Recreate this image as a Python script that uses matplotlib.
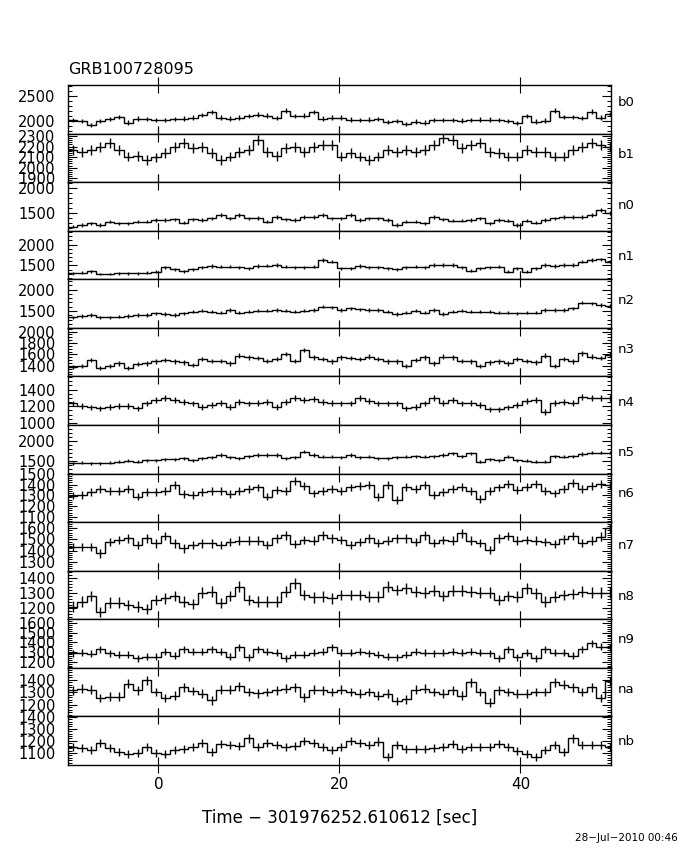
import numpy as np
import matplotlib
matplotlib.use("Agg")
import matplotlib.pyplot as plt
from matplotlib.ticker import MultipleLocator, AutoMinorLocator

# detector names, top to bottom
detectors = ["b0", "b1", "n0", "n1", "n2", "n3", "n4", "n5",
             "n6", "n7", "n8", "n9", "na", "nb"]

bin_width = 1.024
t_start = -10.0

# count rates per 1.024 s bin
b0 = [2010, 1990, 1920, 1990, 2030, 2070, 1960, 2040, 2030, 2010, 2010, 2030, 2040, 2060, 2110,
      2170, 2060, 2040, 2060, 2090, 2120, 2100, 2050, 2200, 2090, 2100, 2170, 2040, 2060, 2060,
      2020, 2010, 2020, 2030, 1970, 1990, 1940, 1980, 1960, 2010, 2010, 2010, 2000, 2010, 2020,
      2020, 2010, 1990, 1950, 2090, 1980, 2000, 2200, 2070, 2070, 2050, 2180, 2060, 2130]
b1 = [2167, 2150, 2167, 2199, 2231, 2167, 2104, 2110, 2072, 2098, 2136, 2199, 2237, 2183, 2199,
      2136, 2072, 2104, 2150, 2167, 2262, 2150, 2110, 2183, 2199, 2150, 2199, 2215, 2215, 2104,
      2136, 2104, 2072, 2104, 2167, 2150, 2167, 2150, 2167, 2215, 2278, 2262, 2183, 2215, 2231,
      2150, 2136, 2104, 2104, 2167, 2150, 2150, 2104, 2104, 2167, 2199, 2231, 2215, 2199]
n0 = [1217, 1250, 1283, 1250, 1317, 1283, 1283, 1317, 1317, 1350, 1350, 1363, 1297, 1363, 1350,
      1383, 1450, 1383, 1450, 1383, 1397, 1317, 1417, 1363, 1350, 1417, 1417, 1450, 1383, 1383,
      1450, 1350, 1383, 1383, 1350, 1250, 1317, 1317, 1283, 1417, 1363, 1337, 1337, 1350, 1383,
      1283, 1350, 1337, 1250, 1337, 1297, 1350, 1383, 1417, 1417, 1417, 1450, 1550, 1497]
n1 = [1307, 1323, 1363, 1291, 1291, 1307, 1307, 1307, 1323, 1347, 1451, 1411, 1363, 1403, 1451,
      1483, 1467, 1467, 1451, 1427, 1483, 1491, 1507, 1467, 1451, 1451, 1467, 1627, 1587, 1427,
      1427, 1483, 1451, 1451, 1427, 1411, 1451, 1467, 1451, 1507, 1507, 1507, 1451, 1371, 1427,
      1451, 1467, 1347, 1427, 1347, 1427, 1507, 1483, 1507, 1507, 1587, 1627, 1643, 1587]
n2 = [1351, 1382, 1406, 1351, 1351, 1367, 1382, 1406, 1406, 1445, 1429, 1406, 1445, 1483, 1507,
      1483, 1460, 1522, 1460, 1483, 1507, 1507, 1522, 1507, 1483, 1507, 1522, 1600, 1584, 1522,
      1561, 1538, 1522, 1522, 1483, 1429, 1460, 1507, 1460, 1522, 1429, 1483, 1507, 1483, 1483,
      1483, 1460, 1460, 1445, 1460, 1460, 1522, 1522, 1522, 1561, 1693, 1678, 1639, 1615]
n3 = [1381, 1399, 1501, 1369, 1399, 1441, 1369, 1429, 1441, 1477, 1501, 1477, 1459, 1417, 1519,
      1489, 1489, 1441, 1578, 1548, 1536, 1489, 1519, 1608, 1489, 1680, 1548, 1519, 1477, 1548,
      1536, 1519, 1560, 1519, 1477, 1477, 1399, 1501, 1548, 1441, 1560, 1548, 1489, 1477, 1399,
      1459, 1477, 1441, 1519, 1489, 1459, 1578, 1399, 1519, 1477, 1620, 1560, 1536, 1596]
n4 = [1234, 1202, 1186, 1174, 1194, 1202, 1202, 1174, 1234, 1275, 1295, 1275, 1255, 1234, 1194,
      1214, 1242, 1194, 1255, 1234, 1242, 1255, 1194, 1255, 1295, 1275, 1283, 1255, 1242, 1234,
      1234, 1295, 1267, 1234, 1234, 1234, 1174, 1194, 1234, 1295, 1242, 1275, 1234, 1242, 1214,
      1162, 1162, 1186, 1214, 1267, 1275, 1134, 1242, 1255, 1242, 1315, 1295, 1295, 1295]
n5 = [1442, 1459, 1442, 1442, 1459, 1484, 1509, 1484, 1525, 1525, 1542, 1542, 1567, 1525, 1567,
      1592, 1650, 1592, 1567, 1625, 1650, 1650, 1650, 1567, 1592, 1734, 1650, 1609, 1609, 1592,
      1650, 1592, 1609, 1567, 1567, 1592, 1609, 1625, 1609, 1625, 1650, 1692, 1625, 1692, 1484,
      1542, 1525, 1609, 1525, 1509, 1484, 1484, 1625, 1609, 1625, 1675, 1709, 1709, 1709]
n6 = [1297, 1306, 1328, 1358, 1343, 1337, 1358, 1288, 1328, 1328, 1337, 1397, 1312, 1306, 1328,
      1337, 1337, 1312, 1337, 1358, 1373, 1288, 1349, 1337, 1434, 1388, 1318, 1337, 1358, 1343,
      1373, 1388, 1397, 1282, 1397, 1258, 1379, 1358, 1397, 1306, 1328, 1358, 1379, 1343, 1267,
      1337, 1373, 1409, 1349, 1379, 1403, 1337, 1318, 1358, 1418, 1358, 1388, 1403, 1397]
n7 = [1434, 1434, 1434, 1374, 1478, 1493, 1508, 1448, 1508, 1463, 1529, 1463, 1419, 1448, 1463,
      1463, 1448, 1478, 1487, 1487, 1487, 1448, 1508, 1537, 1457, 1493, 1487, 1537, 1508, 1493,
      1448, 1478, 1508, 1469, 1487, 1508, 1508, 1478, 1537, 1469, 1493, 1487, 1552, 1487, 1469,
      1404, 1508, 1529, 1487, 1493, 1487, 1478, 1457, 1499, 1529, 1469, 1487, 1523, 1597]
n8 = [1208, 1241, 1279, 1174, 1234, 1234, 1219, 1208, 1190, 1252, 1263, 1279, 1241, 1225, 1301,
      1308, 1230, 1279, 1341, 1252, 1241, 1241, 1241, 1308, 1363, 1286, 1270, 1274, 1263, 1286,
      1286, 1286, 1274, 1274, 1341, 1319, 1330, 1308, 1301, 1314, 1279, 1314, 1314, 1308, 1301,
      1301, 1252, 1279, 1274, 1330, 1297, 1241, 1274, 1286, 1292, 1308, 1301, 1301, 1301]
n9 = [1287, 1294, 1280, 1328, 1287, 1270, 1270, 1236, 1253, 1253, 1304, 1260, 1328, 1304, 1304,
      1328, 1304, 1253, 1349, 1246, 1328, 1304, 1294, 1236, 1270, 1270, 1294, 1304, 1349, 1294,
      1294, 1304, 1287, 1270, 1253, 1246, 1270, 1304, 1294, 1287, 1294, 1304, 1294, 1304, 1294,
      1287, 1236, 1328, 1246, 1294, 1236, 1328, 1294, 1294, 1260, 1328, 1390, 1356, 1349]
na = [1315, 1329, 1321, 1252, 1263, 1263, 1367, 1315, 1395, 1301, 1252, 1272, 1338, 1309, 1286,
      1235, 1321, 1321, 1349, 1301, 1292, 1301, 1315, 1329, 1338, 1258, 1321, 1315, 1301, 1321,
      1301, 1286, 1301, 1272, 1286, 1229, 1243, 1321, 1329, 1301, 1286, 1315, 1272, 1378, 1301,
      1215, 1315, 1301, 1286, 1286, 1301, 1301, 1378, 1358, 1338, 1301, 1338, 1252, 1387]
nb = [1152, 1138, 1125, 1180, 1138, 1111, 1092, 1103, 1147, 1097, 1092, 1125, 1130, 1152, 1180,
      1111, 1174, 1166, 1158, 1221, 1152, 1180, 1166, 1152, 1158, 1202, 1185, 1152, 1125, 1147,
      1202, 1180, 1166, 1194, 1070, 1166, 1130, 1130, 1130, 1138, 1147, 1174, 1130, 1152, 1147,
      1147, 1174, 1152, 1119, 1092, 1070, 1125, 1166, 1111, 1221, 1166, 1166, 1166, 1152]

rates = [b0, b1, n0, n1, n2, n3, n4, n5, n6, n7, n8, n9, na, nb]

# y axis ranges and major tick step of each panel
y_lims = [(1742, 2714), (1863, 2323), (1136, 2108), (1164, 2336), (1106, 2239),
          (1215, 2064), (975, 1558), (1188, 2403), (1051, 1502), (1220, 1653),
          (1123, 1447), (1136, 1637), (1105, 1495), (1001, 1402)]
y_major = [500, 100, 500, 500, 500, 200, 200, 500, 100, 100, 100, 100, 100, 100]
label_frac = [0.37, 0.44, 0.49, 0.54, 0.43, 0.45, 0.53, 0.56, 0.42, 0.49, 0.54, 0.41, 0.45, 0.51]

plt.rcParams['font.family'] = 'DejaVu Sans'

fig = plt.figure(figsize=(6.8, 8.5), dpi=100)
n = len(detectors)
left, right, bottom, top = 0.1, 0.8985, 0.1, 0.9
h = (top - bottom) / n

nbins = len(b0)
edges = t_start + bin_width * np.arange(nbins + 1)
centers = 0.5 * (edges[:-1] + edges[1:])

axes = []
for i, (name, r) in enumerate(zip(detectors, rates)):
    ax = fig.add_axes([left, top - (i + 1) * h, right - left, h],
                      sharex=axes[0] if axes else None)
    axes.append(ax)
    r = np.array(r, dtype=float)
    err = np.sqrt(r / bin_width)
    ax.stairs(r, edges, baseline=None, color='black', lw=1.0)
    ax.vlines(centers, r - err, r + err, color='black', lw=1.0)
    ax.set_xlim(-10, 50)
    ax.set_ylim(*y_lims[i])
    ax.yaxis.set_major_locator(MultipleLocator(y_major[i]))
    ndiv = {500: 5, 200: 4, 100: 5}[y_major[i]]
    ax.yaxis.set_minor_locator(AutoMinorLocator(ndiv))
    ax.xaxis.set_major_locator(MultipleLocator(20))
    ax.tick_params(axis='y', which='both', direction='in', left=True, right=True,
                   labelsize=10.5, pad=9)
    ax.tick_params(axis='y', which='major', length=6.5, width=0.8)
    ax.tick_params(axis='y', which='minor', length=3, width=0.7)
    ax.tick_params(axis='x', which='major', direction='inout', top=True, bottom=True,
                   length=11, width=0.8, labelsize=11, pad=3)
    for s in ax.spines.values():
        s.set_linewidth(1.0)
    ax.text(1.013, 1 - label_frac[i], name, transform=ax.transAxes,
            ha='left', va='center', fontsize=9.5)
    if i < n - 1:
        ax.tick_params(axis='x', labelbottom=False)

axes[-1].set_xlabel("Time \u2212 301976252.610612 [sec]", fontsize=12, labelpad=12)
fig.text(0.1, 0.918, "GRB100728095", ha='left', va='center', fontsize=11.5)
fig.text(0.997, 0.014, "28\u2212Jul\u22122010 00:46", ha='right', va='center', fontsize=7.5)

fig.savefig("out.png", dpi=100)
